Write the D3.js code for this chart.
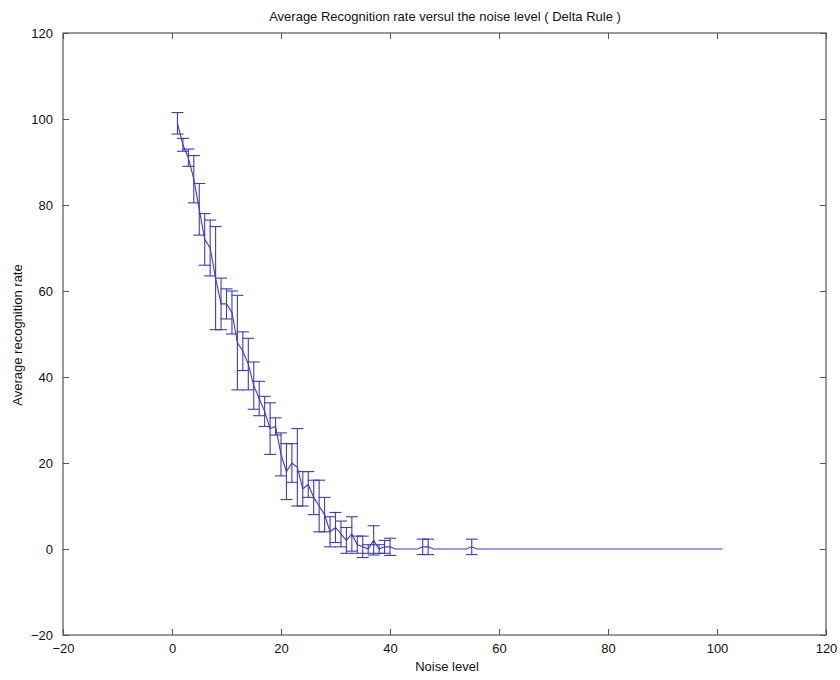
<!DOCTYPE html>
<html>
<head>
<meta charset="utf-8">
<script src="https://cdn.jsdelivr.net/npm/d3@7"></script>
<style>
  body { margin: 0; background: #fff; }
  text { font-family: "Liberation Sans", Arial, sans-serif; fill: #111; }
</style>
</head>
<body>
<svg id="chart" width="840" height="680"></svg>
<script>
// noise level, mean recognition rate, half-width of error bar
const noise = [1,2,3,4,5,6,7,8,9,10,11,12,13,14,15,16,17,18,19,20,
               21,22,23,24,25,26,27,28,29,30,31,32,33,34,35,36,37,38,39,40,
               41,45,46,47,48,54,55,56,101];
const rate  = [99,94,91,86,79,72,70,63,57,57,55,48,46,43,38,35,32,28,28.5,22,
               18,20,19,14,15,12,10,8,4,5,3.5,2,3.5,1,0.5,0,2,0,0.5,0.5,
               0,0,0.5,0.5,0,0,0.5,0,0];
const err   = [2.5,1.5,2,5.5,6,6,6.5,12,6,3.5,5,11,4.5,6,5.5,4,3.5,6,2,5,
               6.5,4.5,9,4,3,4,6,4,3.5,3.5,3,3,4,2,2.5,1,3.4,1,1.5,2,
               0,0,1.8,1.8,0,0,1.8,0,0];

const xTicks = [-20,0,20,40,60,80,100,120];
const yTicks = [-20,0,20,40,60,80,100,120];

const svg = d3.select("#chart");
const padL = 63, padR = 826, padT = 33, padB = 635;

const x = d3.scaleLinear().domain([-20,120]).range([padL,padR]);
const y = d3.scaleLinear().domain([-20,120]).range([padB,padT]);

const blue = "#3c3cc0";
const axisCol = "#555";

/****AXES****/
svg.append("rect").attr("x",padL).attr("y",padT)
  .attr("width",padR-padL).attr("height",padB-padT)
  .attr("fill","none").attr("stroke",axisCol).attr("stroke-width",1.2);

const g = svg.append("g");
g.append("g").attr("transform","translate(0,"+padB+")")
  .call(d3.axisBottom(x).tickValues(xTicks).tickSizeInner(-6).tickSizeOuter(0).tickPadding(9));
g.append("g").attr("transform","translate(0,"+padT+")")
  .call(d3.axisTop(x).tickValues(xTicks).tickSizeInner(-6).tickSizeOuter(0).tickFormat(""));
g.append("g").attr("transform","translate("+padL+",0)")
  .call(d3.axisLeft(y).tickValues(yTicks).tickSizeInner(-6).tickSizeOuter(0).tickPadding(10));
g.append("g").attr("transform","translate("+padR+",0)")
  .call(d3.axisRight(y).tickValues(yTicks).tickSizeInner(-6).tickSizeOuter(0).tickFormat(""));
g.selectAll(".domain").remove();
g.selectAll(".tick line").attr("stroke",axisCol);
g.selectAll(".tick text").style("font-size","13px").style("font-family","Liberation Sans, Arial, sans-serif").attr("fill","#111");

/****DATA****/
const pts = noise.map(function (n,i) { return {n:n, m:rate[i], e:err[i]}; });

const bars = svg.append("g").attr("stroke",blue).attr("stroke-width",1.1).attr("fill","none");
pts.filter(function (p) { return p.e > 0; }).forEach(function (p) {
    const cx = x(p.n), y1 = y(p.m+p.e), y2 = y(p.m-p.e);
    bars.append("line").attr("x1",cx).attr("x2",cx).attr("y1",y1).attr("y2",y2);
    bars.append("line").attr("x1",cx-6).attr("x2",cx+6).attr("y1",y1).attr("y2",y1);
    bars.append("line").attr("x1",cx-6).attr("x2",cx+6).attr("y1",y2).attr("y2",y2);
});

svg.append("path").datum(pts)
  .attr("fill","none").attr("stroke",blue).attr("stroke-width",1.1)
  .attr("d",d3.line().x(function (d) { return x(d.n); }).y(function (d) { return y(d.m); }));

/****LABELS****/
svg.append("text").attr("x",445).attr("y",21).attr("text-anchor","middle")
  .style("font-size","13px").text("Average Recognition rate versul the noise level ( Delta Rule )");
svg.append("text").attr("x",447).attr("y",671).attr("text-anchor","middle")
  .style("font-size","13px").text("Noise level");
svg.append("text").attr("transform","translate(22,335) rotate(-90)").attr("text-anchor","middle")
  .style("font-size","13px").text("Average recognition rate");
</script>
</body>
</html>
